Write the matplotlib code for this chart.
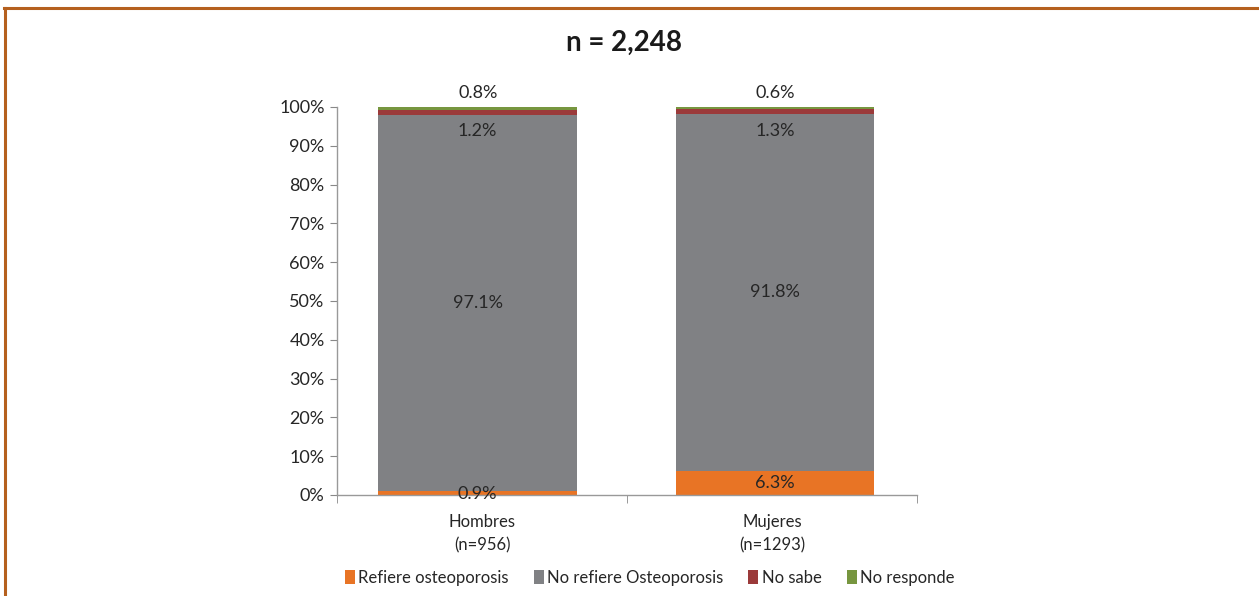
import matplotlib
matplotlib.use("Agg")
import matplotlib.pyplot as plt
from matplotlib.patches import Patch
from matplotlib.lines import Line2D
import numpy as np

categories = ["Hombres\n(n=956)", "Mujeres\n(n=1293)"]
series_names = ["Refiere osteoporosis", "No refiere Osteoporosis", "No sabe", "No responde"]
refiere = [0.9, 6.3]
no_refiere = [97.1, 91.8]
no_sabe = [1.2, 1.3]
no_responde = [0.8, 0.6]
yticks = [0, 10, 20, 30, 40, 50, 60, 70, 80, 90, 100]
title = "n = 2,248"

colors = ["#E87425", "#808184", "#9B3A3A", "#77963F"]
font = "Lato"
plt.rcParams["font.family"] = [font, "DejaVu Sans"]

fig = plt.figure(figsize=(12.59, 5.96), dpi=100)
ax = fig.add_axes([0.2677, 0.1695, 0.4607, 0.651])

x = np.arange(len(categories))
xpos = x + np.array([-0.015, 0.01])
width = 0.685
series = [refiere, no_refiere, no_sabe, no_responde]
bottom = np.zeros(len(categories))
bars = []
for vals, col in zip(series, colors):
    ax.bar(xpos, vals, width, bottom=bottom, color=col, edgecolor="none")
    bars.append((np.array(vals), bottom.copy()))
    bottom = bottom + np.array(vals)

txtc = "#262626"
for i in range(len(categories)):
    v, b0 = bars[0][0][i], bars[0][1][i]
    ax.text(xpos[i], b0 + v / 2 if v > 3 else 0.2, f"{v:.1f}%", ha="center", va="center", fontsize=13, color=txtc)
    v, b0 = bars[1][0][i], bars[1][1][i]
    ax.text(xpos[i], b0 + v / 2, f"{v:.1f}%", ha="center", va="center", fontsize=13, color=txtc)
    v, b0 = bars[2][0][i], bars[2][1][i]
    ax.text(xpos[i], b0 - 4.2, f"{v:.1f}%", ha="center", va="center", fontsize=13, color=txtc)
    v, b0 = bars[3][0][i], bars[3][1][i]
    ax.text(xpos[i], b0 + v + 3.6, f"{v:.1f}%", ha="center", va="center", fontsize=13, color=txtc)

ax.set_xlim(-0.5, len(categories) - 0.5)
ax.set_ylim(0, 100)
ax.set_yticks(yticks)
ax.set_yticklabels([f"{t}%" for t in yticks], fontsize=13, color=txtc)
ax.set_xticks(x)
ax.set_xticklabels(categories, fontsize=12, color=txtc, linespacing=1.55)
ax.tick_params(axis="x", length=0, pad=14)
ax.set_xticks([-0.5, 0.5, 1.5], minor=True)
ax.tick_params(axis="x", which="minor", length=6, color="#888888", direction="out")
ax.tick_params(axis="y", length=5, color="#888888", direction="out", pad=4)
for s in ["top", "right"]:
    ax.spines[s].set_visible(False)
for s in ["left", "bottom"]:
    ax.spines[s].set_color("#999999")
    ax.spines[s].set_linewidth(1.0)

fig.text(0.496, 0.928, title, ha="center", va="center", fontsize=20, fontweight="bold", color="#1a1a1a")

handles = [Patch(facecolor=c, edgecolor="none") for c in colors]
fig.legend(handles, series_names, loc="center", bbox_to_anchor=(0.516, 0.031), ncol=4,
           frameon=False, fontsize=12, handlelength=0.6, handleheight=0.9,
           handletextpad=0.2, columnspacing=1.5, labelcolor=txtc)

border = "#B5601E"
fig.add_artist(Line2D([0.003, 1.0], [0.986, 0.986], transform=fig.transFigure, color=border, lw=2.2))
fig.add_artist(Line2D([0.004, 0.004], [0.0, 0.986], transform=fig.transFigure, color=border, lw=2.2))

fig.savefig("out.png", dpi=100)
